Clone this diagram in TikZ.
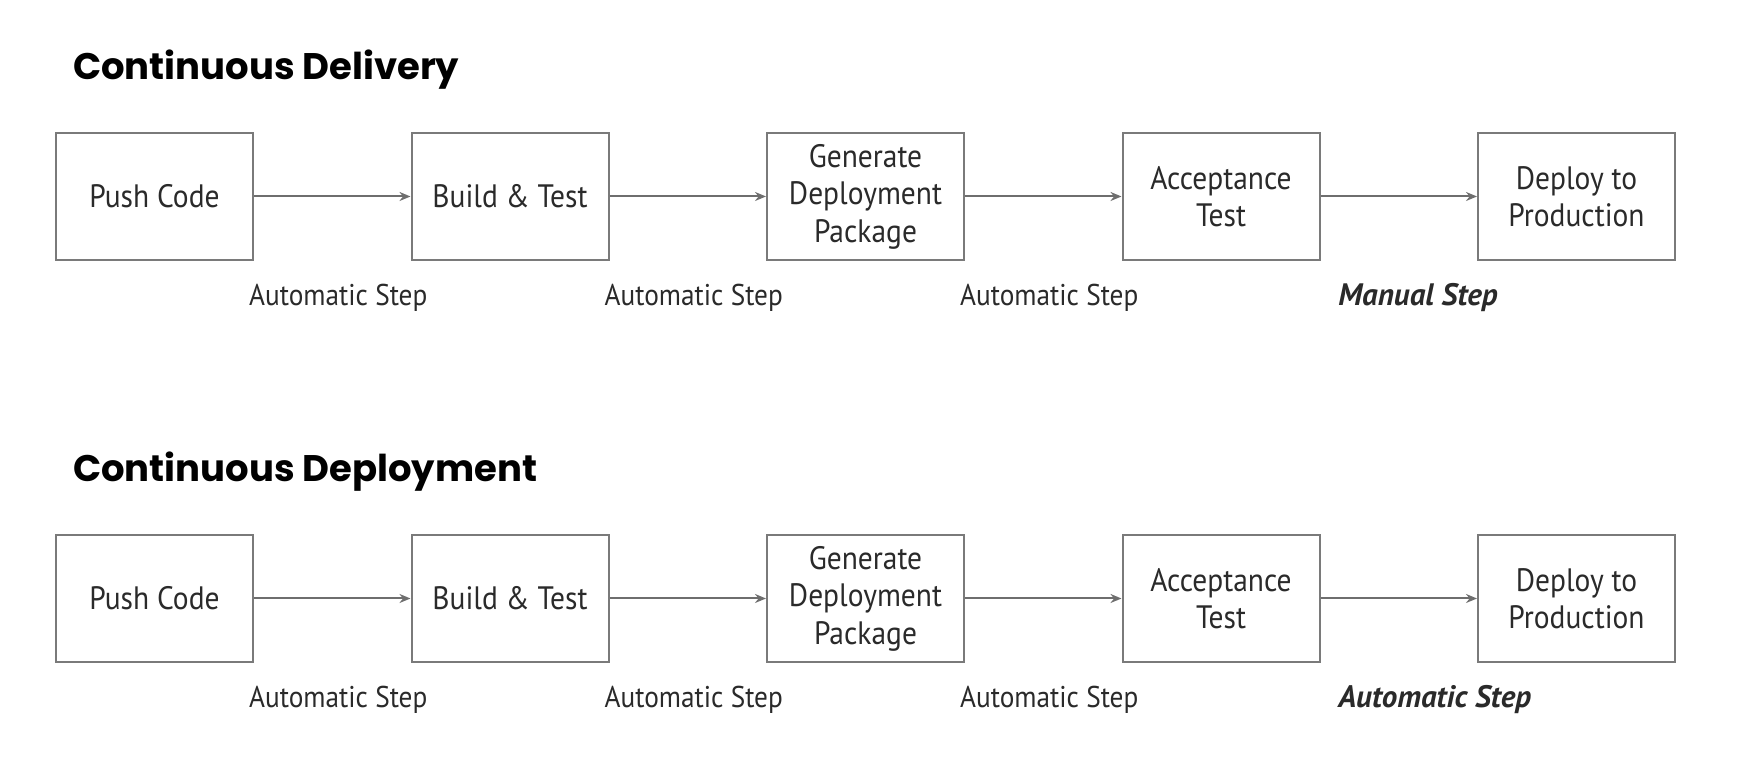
\documentclass[tikz,border=0pt]{standalone}
\usepackage{fontspec}
\setmainfont{PT Sans}[FakeStretch=0.91]
\newfontfamily\headfont{Poppins}
\newfontfamily\keyfont{PT Sans}
\usetikzlibrary{positioning, arrows.meta}

\definecolor{boxgray}{HTML}{7A7A7A}
\definecolor{linegray}{HTML}{6E6E6E}
\definecolor{textgray}{HTML}{2A2A2A}

\tikzset{
    stage/.style={draw=boxgray, line width=1pt, minimum width=98.5pt, minimum height=63.5pt,
        inner sep=0pt, align=center, text=textgray, font=\fontsize{16.2}{18.75}\selectfont},
    flow/.style={->, draw=linegray, line width=1pt},
    steplabel/.style={anchor=base, yshift=-54.5pt, xshift=3pt, text=textgray, font=\fontsize{15}{18}\selectfont},
    keylabel/.style={steplabel, anchor=base west, xshift=-37pt, font=\keyfont\bfseries\itshape\fontsize{15.5}{18}\selectfont},
    title/.style={anchor=base west, text=black, font=\headfont\bfseries\fontsize{18.5}{20}\selectfont}
}

\begin{document}
\begin{tikzpicture}[node distance=78.25pt, >={Stealth[length=5.5pt, width=4.5pt]}]
        \useasboundingbox (0,0) rectangle (874.5pt,390pt);

        % continuous delivery
        \node[title] (DeliveryTitle) at (33pt,350pt) {Continuous Delivery};
        \node[stage] (Push) at (77.25pt,291.75pt) {Push Code};
        \node[stage, right=of Push] (Build) {Build \& Test};
        \node[stage, right=of Build] (Package) {Generate\\Deployment\\Package};
        \node[stage, right=of Package] (Accept) {Acceptance\\Test};
        \node[stage, right=of Accept] (Deploy) {Deploy to\\Production};

        \path[flow]
        (Push) edge node[steplabel] {Automatic Step} (Build)
        (Build) edge node[steplabel] {Automatic Step} (Package)
        (Package) edge node[steplabel] {Automatic Step} (Accept)
        (Accept) edge node[keylabel] {Manual Step} (Deploy);

        % continuous deployment
        \node[title] (DeploymentTitle) at (33pt,149pt) {Continuous Deployment};
        \node[stage] (Push2) at (77.25pt,90.75pt) {Push Code};
        \node[stage, right=of Push2] (Build2) {Build \& Test};
        \node[stage, right=of Build2] (Package2) {Generate\\Deployment\\Package};
        \node[stage, right=of Package2] (Accept2) {Acceptance\\Test};
        \node[stage, right=of Accept2] (Deploy2) {Deploy to\\Production};

        \path[flow]
        (Push2) edge node[steplabel] {Automatic Step} (Build2)
        (Build2) edge node[steplabel] {Automatic Step} (Package2)
        (Package2) edge node[steplabel] {Automatic Step} (Accept2)
        (Accept2) edge node[keylabel] {Automatic Step} (Deploy2);
    \end{tikzpicture}
\end{document}
